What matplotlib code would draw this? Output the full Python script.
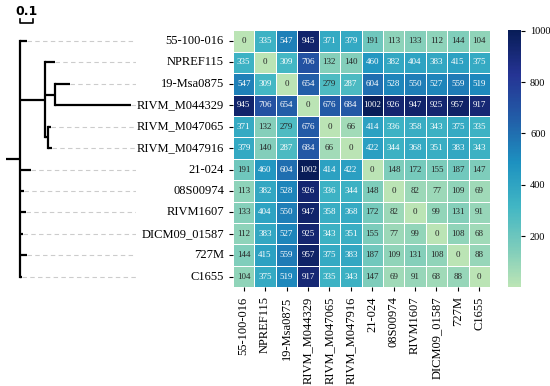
# Pairwise distance heatmap with a tree on the left
import numpy as np
import pandas as pd
import matplotlib
matplotlib.use("Agg")
import matplotlib.pyplot as plt
from matplotlib.colors import LinearSegmentedColormap
import seaborn as sns

plt.rcParams['font.family'] = ['Liberation Serif', 'DejaVu Serif']

# strain order (rows / columns / tree leaves)
strains = ["55-100-016", "NPREF115", "19-Msa0875", "RIVM_M044329", "RIVM_M047065",
           "RIVM_M047916", "21-024", "08S00974", "RIVM1607", "DICM09_01587",
           "727M", "C1655"]

# distance matrix
dist = [
    [0, 335, 547, 945, 371, 379, 191, 113, 133, 112, 144, 104],
    [335, 0, 309, 706, 132, 140, 460, 382, 404, 383, 415, 375],
    [547, 309, 0, 654, 279, 287, 604, 528, 550, 527, 559, 519],
    [945, 706, 654, 0, 676, 684, 1002, 926, 947, 925, 957, 917],
    [371, 132, 279, 676, 0, 66, 414, 336, 358, 343, 375, 335],
    [379, 140, 287, 684, 66, 0, 422, 344, 368, 351, 383, 343],
    [191, 460, 604, 1002, 414, 422, 0, 148, 172, 155, 187, 147],
    [113, 382, 528, 926, 336, 344, 148, 0, 82, 77, 109, 69],
    [133, 404, 550, 947, 358, 368, 172, 82, 0, 99, 131, 91],
    [112, 383, 527, 925, 343, 351, 155, 77, 99, 0, 108, 68],
    [144, 415, 559, 957, 375, 383, 187, 109, 131, 108, 0, 88],
    [104, 375, 519, 917, 335, 343, 147, 69, 91, 68, 88, 0],
]

cbar_ticks = [200, 400, 600, 800, 1000]

# tree: (leaf name or list of children, branch length)
tree = ([
    ("55-100-016", 0.054),
    ([("NPREF115", 0.077),
      ([("19-Msa0875", 0.115), ("RIVM_M044329", 0.59)], 0.077),
      ([("RIVM_M047065", 0.023), ("RIVM_M047916", 0.03)], 0.023)], 0.19),
    ("21-024", 0.085),
    ("08S00974", 0.03),
    ("RIVM1607", 0.046),
    ("DICM09_01587", 0.023),
    ("727M", 0.054),
    ("C1655", 0.015),
], 0.108)

W, H = 550, 386
fig = plt.figure(figsize=(W / 100, H / 100), dpi=100)

# heatmap placement in pixels
hm_left, hm_top, hm_size = 233, 30.3, 257
ax = fig.add_axes([hm_left / W, 1 - (hm_top + hm_size) / H, hm_size / W, hm_size / H])
cax = fig.add_axes([508 / W, 1 - (hm_top + hm_size) / H, 13 / W, hm_size / H])

base = plt.get_cmap("YlGnBu")
cmap = LinearSegmentedColormap.from_list("ylgnbu_cut", base(np.linspace(0.27, 1.0, 256)))

df = pd.DataFrame(dist, index=strains, columns=strains)
sns.heatmap(df, ax=ax, cbar_ax=cax, cmap=cmap, vmin=0, vmax=1002,
            annot=True, fmt="d", annot_kws={"size": 6.5},
            linewidths=0.7, linecolor="white")
ax.tick_params(axis="both", labelsize=9, length=3)
ax.set_yticklabels(strains, rotation=0)
ax.set_xticklabels(strains, rotation=90)
cax.set_yticks(cbar_ticks)
cax.tick_params(labelsize=7.5, length=3)

# tree axes: full height, rows aligned with heatmap
row_h = hm_size / len(strains)
tax = fig.add_axes([0, 0, 136 / W, 1])
px = 130.0  # pixels per branch-length unit
tax.set_xlim(-6 / px, 130 / px)
tax.set_ylim((H - hm_top) / row_h, -hm_top / row_h)
tax.axis("off")
x_end = 130 / px


def draw(node, x0):
    item, bl = node
    x1 = x0 + bl
    if isinstance(item, str):
        y = strains.index(item) + 0.5
        tax.plot([x1, x_end], [y, y], ls=(0, (4, 3)), color="#cccccc", lw=0.8)
        tax.plot([x0, x1], [y, y], color="black", lw=1.6, solid_capstyle="butt")
        return y
    ys = [draw(child, x1) for child in item]
    tax.plot([x1, x1], [min(ys), max(ys)], color="black", lw=1.6)
    ym = (min(ys) + max(ys)) / 2
    tax.plot([x0, x1], [ym, ym], color="black", lw=1.6, solid_capstyle="butt")
    return ym


draw(tree, 0.0)

# scale bar 0.1
sb_x = 14 / px
sb_y = (23 - hm_top) / row_h
tick_h = 4 / row_h
tax.plot([sb_x, sb_x, sb_x + 0.1, sb_x + 0.1],
         [sb_y - tick_h, sb_y, sb_y, sb_y - tick_h], color="black", lw=1.2)
tax.text(sb_x + 0.05, (12 - hm_top) / row_h, "0.1", ha="center", va="center",
         fontsize=9, fontweight="bold", family="DejaVu Sans")

fig.savefig("out.png", dpi=100)
